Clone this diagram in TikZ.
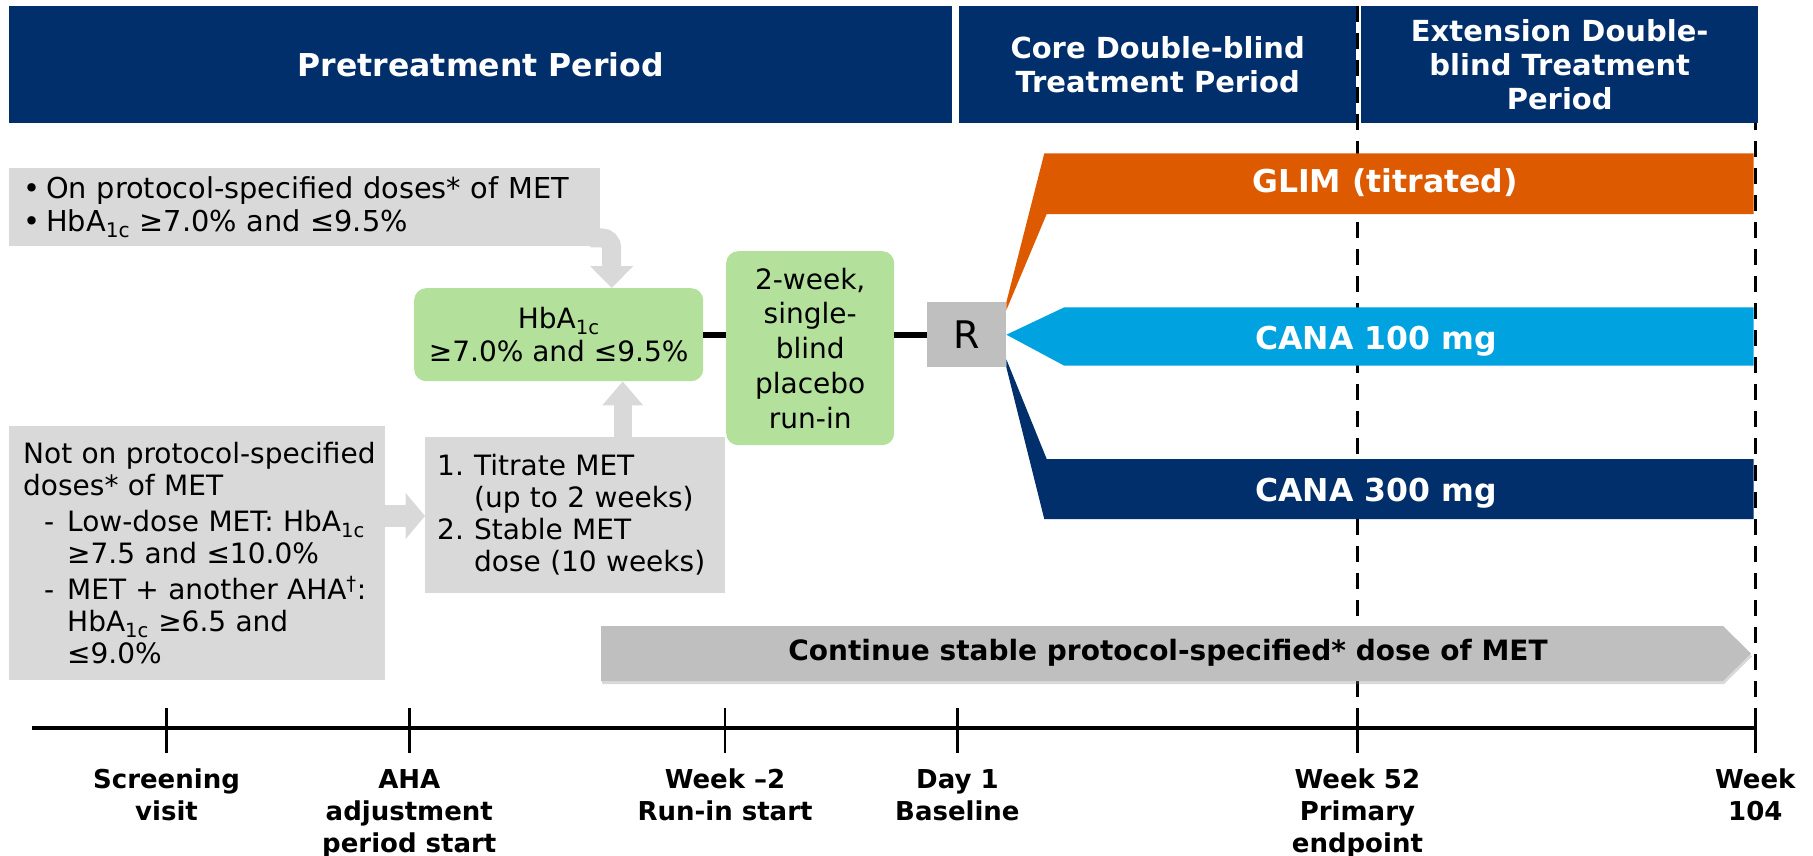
\documentclass[tikz,border=0pt]{standalone}
\usepackage{fontspec}
\setmainfont{DejaVu Sans}
\usetikzlibrary{shadows,arrows.meta,calc}
\definecolor{navy}{RGB}{0,47,108}
\definecolor{orng}{RGB}{222,90,0}
\definecolor{lblue}{RGB}{0,163,224}
\definecolor{lgreen}{RGB}{179,224,155}
\definecolor{boxgray}{RGB}{217,217,217}
\definecolor{rgray}{RGB}{191,191,191}
\begin{document}
\begin{tikzpicture}[x=1pt,y=-1pt,
  hdr/.style={fill=navy, text=white, font=\bfseries\fontsize{29}{34}\selectfont, align=center, inner sep=0pt, anchor=north west, minimum height=117pt},
  gbox/.style={fill=boxgray, inner ysep=0pt, anchor=north west, align=left, font=\fontsize{28}{32}\selectfont},
  grn/.style={fill=lgreen, rounded corners=12pt, inner sep=0pt, anchor=north west, align=center},
  barlabel/.style={text=white, font=\bfseries\fontsize{31.5}{34}\selectfont, inner sep=0pt},
  conn/.style={line width=6pt, black},
  tline/.style={line width=4.5pt, black},
  tickmark/.style={line width=2.5pt, black},
  vdash/.style={line width=3.5pt, black, dash pattern=on 16pt off 11pt},
  tlabel/.style={font=\bfseries\fontsize{26}{32}\selectfont, align=center, anchor=north, inner sep=0pt},
  bigarrow/.style={boxgray, line width=#1},
]
\useasboundingbox (0,0) rectangle (1813,856);

% dashed period boundaries
\coordinate (d52top) at (1357.4,6);
\coordinate (d52bot) at (1357.4,708);
\coordinate (d104top) at (1755.3,6);
\coordinate (d104bot) at (1755.3,708);
\draw[vdash] (d52top) -- (d52bot);
\draw[vdash] (d104top) -- (d104bot);

% headers
\node[hdr, minimum width=943pt, font=\bfseries\fontsize{31.5}{34}\selectfont] (h1) at (9,6) {Pretreatment Period};
\node[hdr, minimum width=397pt] (h2) at (959,6) {Core Double-blind\\Treatment Period};
\node[hdr, minimum width=397pt] (h3) at (1361,6) {Extension Double-\\blind Treatment\\Period};

% left boxes
\node[gbox, inner xsep=19pt, text width=553pt, minimum height=78pt, font=\fontsize{28.8}{33}\selectfont] (onmet) at (9,168)
  {\makebox[18pt][l]{\hspace*{-5pt}•}On protocol-specified doses* of MET\\
   \makebox[18pt][l]{\hspace*{-5pt}•}HbA\textsubscript{1c} ≥7.0\% and ≤9.5\%};

\node[gbox, inner xsep=14pt, text width=348pt, minimum height=254.5pt] (notmet) at (9,425.5)
  {\mbox{Not on protocol-specified}\\
   doses* of MET\\[4pt]
   \hspace*{21pt}\makebox[23pt][l]{-}Low-dose MET: HbA\textsubscript{1c}\\
   \hspace*{44pt}≥7.5 and ≤10.0\%\\[4pt]
   \hspace*{21pt}\makebox[23pt][l]{-}MET + another AHA\textsuperscript{†}:\\
   \hspace*{44pt}HbA\textsubscript{1c} ≥6.5 and\\
   \hspace*{44pt}≤9.0\%};

\node[gbox, inner xsep=12pt, text width=276pt, minimum height=156.3pt] (titrate) at (425,436.7)
  {\makebox[37pt][l]{1.}Titrate MET\\
   \hspace*{37pt}(up to 2 weeks)\\
   \makebox[37pt][l]{2.}Stable MET\\
   \hspace*{37pt}dose (10 weeks)};

% green boxes
\node[grn, minimum width=289pt, minimum height=93pt, font=\fontsize{28}{33.5}\selectfont] (hba) at (414,288)
  {HbA\textsubscript{1c}\\≥7.0\% and ≤9.5\%};
\node[grn, minimum width=168pt, minimum height=194pt, font=\fontsize{28}{34.7}\selectfont] (runin) at (726,251)
  {2-week,\\single-\\blind\\placebo\\run-in};

% randomisation box
\node[fill=rgray, minimum width=79pt, minimum height=65pt, inner sep=0pt, anchor=north west, font=\fontsize{38}{40}\selectfont] (rbox) at (927,302) {R};

% connectors
\draw[conn] (hba.east) -- (hba.east -| runin.west);
\draw[conn] (runin.east |- hba.east) -- (rbox.west |- hba.east);

% block arrows
\draw[bigarrow=19pt, rounded corners=10pt, -{Triangle[length=22pt,width=42pt]}]
  ([shift={(-10,-8.5)}]onmet.south east) -| ([xshift=53pt]hba.north);
\draw[bigarrow=18.4pt, -{Triangle[length=24pt,width=39.4pt]}]
  ([xshift=47.5pt]titrate.north) -- ([xshift=47.5pt]titrate.north |- hba.south);
\draw[bigarrow=22.6pt, -{Triangle[length=19.3pt,width=45pt]}]
  (notmet.east |- 0,516) -- (titrate.west |- 0,516);

% treatment arms
\fill[orng] (rbox.north east) -- (1044.3,153.3) -- (1753.5,153.3) -- (1753.5,214) -- (1046.7,214) -- ([shift={(0,8)}]rbox.north east) -- cycle;
\fill[lblue] (rbox.east) -- (1064.3,307.3) -- (1753.5,307.3) -- (1753.5,365.7) -- (1064.3,365.7) -- cycle;
\fill[navy] (rbox.south east) -- (1044.3,519) -- (1753.5,519) -- (1753.5,459) -- (1046.7,459) -- ([shift={(0,-8)}]rbox.south east) -- cycle;
\node[barlabel] (glim) at (1385,183) {GLIM (titrated)};
\node[barlabel] (c100) at (1376,341) {CANA 100 mg};
\node[barlabel] (c300) at (1376,493) {CANA 300 mg};

% continue bar
\fill[rgray, drop shadow={shadow xshift=1pt, shadow yshift=-3pt, opacity=0.3}]
  (601,626) -- (1723,626) -- (1751,653.5) -- (1723,681) -- (601,681) -- cycle;
\node[font=\bfseries\fontsize{28}{30}\selectfont, inner sep=0pt] (cont) at (1168,653) {Continue stable protocol-specified* dose of MET};

% timeline
\coordinate (tl0) at (32,728);
\coordinate (tl1) at (1755.3,728);
\draw[tline] (tl0) -- (tl1);
\foreach \x in {166.5,409.3,725,957.4,1357.4,1755.3}
  \draw[tickmark] (\x,708) -- (\x,753);

\node[tlabel] (l1) at (166.5,769) {Screening\\visit};
\node[tlabel] (l2) at (409.3,769) {AHA\\adjustment\\period start};
\node[tlabel] (l3) at (725,769) {Week –2\\Run-in start};
\node[tlabel] (l4) at (957.4,769) {Day 1\\Baseline};
\node[tlabel] (l5) at (1357.4,769) {Week 52\\Primary\\endpoint};
\node[tlabel] (l6) at (1755.3,769) {Week\\104};
\end{tikzpicture}
\end{document}
